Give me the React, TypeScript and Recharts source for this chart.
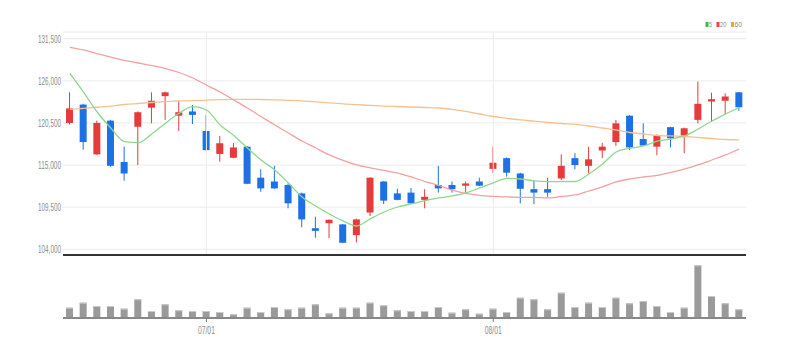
import React from 'react';
import { ComposedChart, BarChart, Bar, Line, XAxis, YAxis, CartesianGrid, ReferenceLine } from 'recharts';

const dates = [
  '06/17', '06/18', '06/19', '06/20', '06/21', '06/24', '06/25', '06/26', '06/27', '06/28',
  '07/01', '07/02', '07/03', '07/04', '07/05', '07/08', '07/09', '07/10', '07/11', '07/12',
  '07/15', '07/16', '07/17', '07/18', '07/19', '07/22', '07/23', '07/24', '07/25', '07/26',
  '07/29', '08/01', '08/02', '08/05', '08/06', '08/07', '08/08', '08/09', '08/12', '08/13',
  '08/14', '08/16', '08/19', '08/20', '08/21', '08/22', '08/23', '08/26', '08/27', '08/28',
];

const opens = [
  120500, 122900, 116400, 120800, 115400, 120000, 122500, 124000, 121450, 122000,
  119450, 116450, 115950, 117400, 113350, 112850, 112400, 111300, 106750, 107400,
  107250, 105850, 108800, 112850, 111300, 111400, 110450, 112400, 112400, 112300,
  112850, 114500, 115900, 113900, 111850, 111850, 113250, 115900, 114900, 116900,
  118000, 121450, 118400, 117400, 119950, 118850, 120900, 123300, 123400, 124500,
];
const highs = [
  124500, 123000, 120800, 120900, 117400, 122000, 124500, 124600, 123400, 122850,
  121550, 118800, 117900, 117500, 114450, 114900, 112600, 111400, 108250, 107900,
  107300, 108000, 113400, 112900, 111900, 112000, 111850, 114900, 112850, 112850,
  113350, 117400, 116000, 114000, 112950, 113350, 116400, 116550, 117400, 117900,
  120900, 121550, 120450, 119000, 120000, 119900, 125900, 124450, 124350, 124550,
];
const lows = [
  120300, 117000, 116300, 114800, 112950, 115000, 120450, 120900, 119450, 120350,
  116900, 115450, 115900, 112500, 111500, 111900, 109350, 106870, 105500, 105450,
  104800, 104900, 108350, 109900, 110400, 109950, 109350, 111400, 111400, 111300,
  112250, 113900, 113500, 110000, 109900, 110850, 113050, 114450, 113900, 115900,
  117500, 116950, 117500, 116300, 117300, 116550, 120450, 120650, 121650, 122100,
];
const closes = [
  122400, 118000, 120500, 114900, 113900, 121900, 123400, 124500, 121900, 121550,
  116950, 117850, 117300, 112550, 111950, 111950, 110000, 107900, 106400, 107850,
  104850, 107900, 113350, 110350, 110450, 110000, 110850, 111950, 111850, 112600,
  112300, 115300, 114000, 111900, 111400, 111400, 114900, 115000, 115750, 117400,
  120450, 117300, 117550, 118850, 118500, 119800, 123000, 123600, 123950, 122550,
];

const ma5 = [
  126990, 124540, 121930, 119840, 118050, 117920, 119060, 120460, 121760, 122620,
  122190, 120230, 118860, 117230, 115660, 114360, 112660, 110830, 109650, 108610,
  107700, 107040, 107960, 108870, 109520, 109920, 110350, 110700, 110960, 111350,
  112010, 112660, 113250, 113180, 112920, 112830, 112830, 112850, 113830, 115140,
  116710, 117190, 117490, 118140, 118400, 118800, 119710, 120760, 121670, 122520,
];
const ma20 = [
  130380, 130030, 129570, 129110, 128660, 128330, 128000, 127610, 127090, 126370,
  125460, 124540, 123500, 122450, 121340, 120230, 119190, 118140, 117230, 116320,
  115600, 115010, 114620, 114290, 113960, 113440, 112850, 112330, 111740, 111290,
  111030, 110900, 110830, 110790, 110770, 110700, 110900, 111090, 111610, 112140,
  112790, 113180, 113440, 113640, 114030, 114490, 115010, 115660, 116320, 117100,
];
const ma60 = [
  122260, 122410, 122550, 122710, 122910, 123040, 123170, 123280, 123370, 123410,
  123470, 123540, 123590, 123590, 123560, 123520, 123460, 123390, 123260, 123110,
  122980, 122890, 122790, 122710, 122650, 122580, 122520, 122450, 122260, 122000,
  121670, 121340, 121110, 120890, 120730, 120560, 120430, 120300, 120100, 119840,
  119580, 119250, 119060, 118860, 118800, 118730, 118600, 118470, 118340, 118280,
];

const volumes = [
  103000, 153000, 120000, 120000, 93000, 187000, 70000, 137000, 77000, 70000,
  70000, 60000, 37000, 103000, 60000, 110000, 87000, 103000, 137000, 47000,
  103000, 103000, 153000, 127000, 77000, 70000, 70000, 110000, 53000, 87000,
  43000, 93000, 60000, 203000, 187000, 87000, 253000, 110000, 153000, 110000,
  203000, 147000, 170000, 120000, 60000, 103000, 527000, 220000, 147000, 87000,
];

const priceTicks = [104000, 109500, 115000, 120500, 126000, 131500];
const dateTicks = ['07/01', '08/01'];
const legendItems = [
  { label: '5', color: '#3cbc3c' },
  { label: '20', color: '#ee4444' },
  { label: '60', color: '#f0a040' },
];

const data = dates.map((d, i) => ({
  date: d,
  open: opens[i],
  high: highs[i],
  low: lows[i],
  close: closes[i],
  range: [lows[i], highs[i]],
  ma5: ma5[i],
  ma20: ma20[i],
  ma60: ma60[i],
  vol: volumes[i],
}));

const RED = '#e53b3b';
const BLUE = '#1c72e4';
const FONT = 'Liberation Sans, Arial, sans-serif';

const Candle = (props: any) => {
  const { x, y, width, height, payload } = props;
  if (!payload) return null;
  const { open, close, high, low } = payload;
  const up = close >= open;
  const color = up ? RED : BLUE;
  const top0 = Math.min(y, y + height);
  const h = Math.abs(height);
  const span = high - low || 1;
  const py = (p: number) => top0 + ((high - p) / span) * h;
  const cx = x + width / 2;
  const bt = py(Math.max(open, close));
  const bb = py(Math.min(open, close));
  return (
    <g>
      <line x1={cx} x2={cx} y1={top0} y2={top0 + h} stroke={color} strokeWidth={1} />
      <rect x={x} y={bt} width={width} height={Math.max(bb - bt, 1.5)} fill={color} />
    </g>
  );
};

const VolBar = (props: any) => {
  const { x, y, width, height } = props;
  if (!height) return null;
  return (
    <g>
      <rect x={x} y={y} width={width} height={height} fill="#9a9a9a" />
      <rect x={x} y={y} width={width} height={1} fill="#c9c9c9" />
    </g>
  );
};

const YTick = (props: any) => {
  const { x, y, payload } = props;
  return (
    <text x={x} y={y} dy={3.8} textAnchor="end" fontSize={11} fill="#8c8c8c" fontFamily={FONT}
      textLength={23} lengthAdjust="spacingAndGlyphs">
      {Number(payload.value).toLocaleString('en-US')}
    </text>
  );
};

const XTick = (props: any) => {
  const { x, y, payload } = props;
  return (
    <text x={x} y={y} dy={10} textAnchor="middle" fontSize={11} fill="#8c8c8c" fontFamily={FONT}
      textLength={17} lengthAdjust="spacingAndGlyphs">
      {payload.value}
    </text>
  );
};

export default function App() {
  return (
    <div style={{ position: 'absolute', left: 0, top: 0, width: 785, height: 357, background: '#fff', fontFamily: FONT }}>
      <div style={{ position: 'absolute', left: 0, top: 0 }}>
        <ComposedChart width={785} height={257} data={data} margin={{ top: 32, right: 39, bottom: 0, left: 0 }}>
          <CartesianGrid vertical={false} stroke="#ececec" />
          <XAxis dataKey="date" height={2} tick={false} tickLine={false}
            axisLine={{ stroke: '#333', strokeWidth: 2 }} />
          <YAxis width={63} domain={[103250, 132380]} ticks={priceTicks} interval={0}
            axisLine={false} tickLine={false} tickSize={0} tickMargin={2} tick={<YTick />} />
          {dateTicks.map((d) => (
            <ReferenceLine key={d} x={d} stroke="#ececec" />
          ))}
          <Line dataKey="ma60" type="monotone" stroke="#f6c190" strokeWidth={1.3} dot={false} isAnimationActive={false} />
          <Line dataKey="ma20" type="monotone" stroke="#f3a0a0" strokeWidth={1.3} dot={false} isAnimationActive={false} />
          <Line dataKey="ma5" type="monotone" stroke="#8fd68f" strokeWidth={1.3} dot={false} isAnimationActive={false} />
          <Bar dataKey="range" barSize={7} shape={<Candle />} isAnimationActive={false} />
        </ComposedChart>
      </div>
      <div style={{ position: 'absolute', left: 0, top: 257 }}>
        <BarChart width={785} height={100} data={data} margin={{ top: 5, right: 39, bottom: 19, left: 63 }}>
          <XAxis dataKey="date" height={20} ticks={dateTicks} interval={0} tickSize={4} tickMargin={2}
            tickLine={{ stroke: '#777' }} axisLine={{ stroke: '#888', strokeWidth: 2 }} tick={<XTick />} />
          <YAxis hide domain={[0, 560000]} />
          <Bar dataKey="vol" barSize={7} shape={<VolBar />} isAnimationActive={false} />
        </BarChart>
      </div>
      <svg style={{ position: 'absolute', left: 0, top: 0 }} width={785} height={40}>
        {legendItems.map((it, i) => {
          const xs = [705.5, 716.5, 731];
          const tw = [3, 6.5, 7.5];
          return (
            <g key={it.label}>
              <rect x={xs[i]} y={22} width={3} height={5} fill={it.color} />
              <text x={xs[i] + 3.5} y={27} fontSize={8} fill="#8c8c8c" fontFamily={FONT}
                textLength={tw[i]} lengthAdjust="spacingAndGlyphs">{it.label}</text>
            </g>
          );
        })}
      </svg>
    </div>
  );
}
